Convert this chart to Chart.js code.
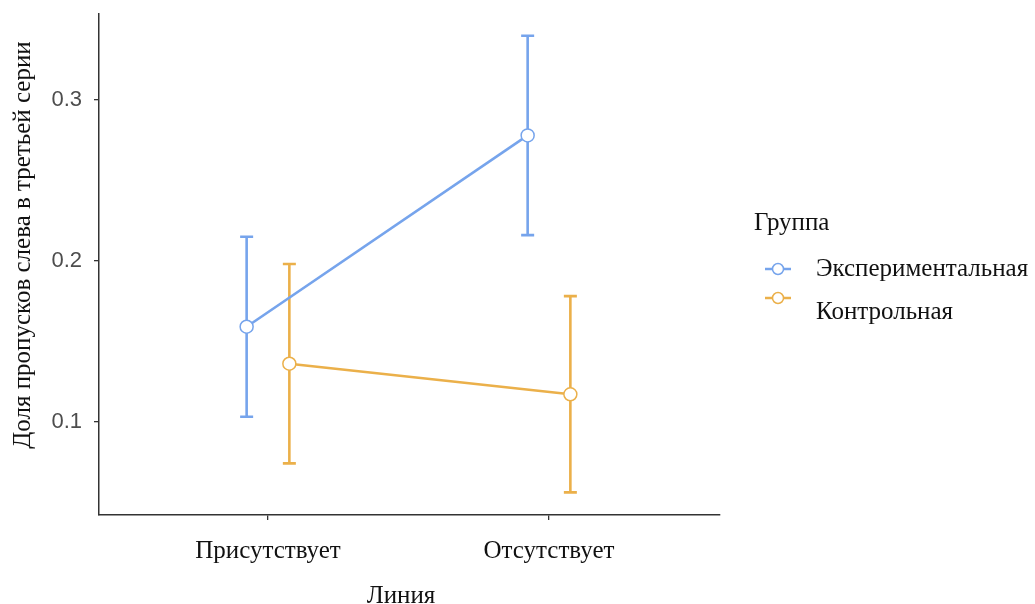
<!DOCTYPE html>
<html>
<head>
<meta charset="utf-8">
<script src="https://cdn.jsdelivr.net/npm/chart.js@4/dist/chart.umd.min.js"></script>
<style>
  html, body { margin: 0; padding: 0; background: #fff; }
  #wrap { position: relative; width: 1035px; height: 604px; }
</style>
</head>
<body>
<div id="wrap"><canvas id="c" width="1035" height="604"></canvas></div>
<script>
// Categories of the x axis and the two groups
const lineLevels = ['Присутствует', 'Отсутствует'];
const groupNames = ['Экспериментальная', 'Контрольная'];

// Means and interval bounds per group
const expMean  = [0.159, 0.278];
const expLower = [0.103, 0.216];
const expUpper = [0.215, 0.340];

const ctrlMean  = [0.136, 0.117];
const ctrlLower = [0.074, 0.056];
const ctrlUpper = [0.198, 0.178];

const yTickValues = [0.1, 0.2, 0.3];

// Styling
const BLUE = '#76a4ec';
const ORANGE = '#ebb04a';
const DODGE = 0.076;
const SERIF = '"Liberation Serif", "DejaVu Serif", serif';
const SANS = '"Liberation Sans", Arial, sans-serif';

function toPoints(values, offset) {
  return values.map((v, i) => ({ x: i + 1 + offset, y: v }));
}

const intervals = [
  { lower: expLower, upper: expUpper, color: BLUE },
  { lower: ctrlLower, upper: ctrlUpper, color: ORANGE }
];

// Vertical interval bars with caps, placed through the chart's own scales
const errorBarPlugin = {
  id: 'errorBars',
  beforeDatasetsDraw(chart) {
    const ctx = chart.ctx;
    const yScale = chart.scales.y;
    intervals.forEach((iv, di) => {
      const meta = chart.getDatasetMeta(di);
      ctx.save();
      ctx.strokeStyle = iv.color;
      ctx.lineWidth = 2.6;
      ctx.lineCap = 'butt';
      meta.data.forEach((pt, j) => {
        const x = pt.x;
        const yLo = yScale.getPixelForValue(iv.lower[j]);
        const yHi = yScale.getPixelForValue(iv.upper[j]);
        ctx.beginPath();
        ctx.moveTo(x, yLo); ctx.lineTo(x, yHi);
        ctx.moveTo(x - 6.5, yHi); ctx.lineTo(x + 6.5, yHi);
        ctx.moveTo(x - 6.5, yLo); ctx.lineTo(x + 6.5, yLo);
        ctx.stroke();
      });
      ctx.restore();
    });
  }
};

// Axis titles and the group legend
const labelsPlugin = {
  id: 'labels',
  afterDraw(chart) {
    const ctx = chart.ctx;
    ctx.save();
    ctx.fillStyle = '#111';
    ctx.font = '25px ' + SERIF;

    // y axis title
    ctx.save();
    ctx.translate(30, 245);
    ctx.rotate(-Math.PI / 2);
    ctx.textAlign = 'center';
    ctx.textBaseline = 'alphabetic';
    ctx.fillText('Доля пропусков слева в третьей серии', 0, 0);
    ctx.restore();

    // x axis title
    ctx.textAlign = 'center';
    ctx.textBaseline = 'alphabetic';
    ctx.fillText('Линия', 401, 603);

    // legend
    ctx.textAlign = 'left';
    ctx.fillText('Группа', 754, 230);
    const items = [
      { name: groupNames[0], color: BLUE, symY: 269, textY: 276 },
      { name: groupNames[1], color: ORANGE, symY: 298, textY: 319 }
    ];
    items.forEach(it => {
      ctx.strokeStyle = it.color;
      ctx.lineWidth = 2.5;
      ctx.beginPath();
      ctx.moveTo(765, it.symY); ctx.lineTo(791, it.symY);
      ctx.stroke();
      ctx.beginPath();
      ctx.arc(778, it.symY, 5.5, 0, Math.PI * 2);
      ctx.fillStyle = '#fff';
      ctx.fill();
      ctx.lineWidth = 1.5;
      ctx.stroke();
      ctx.fillStyle = '#111';
      ctx.fillText(it.name, 816, it.textY);
    });
    ctx.restore();
  }
};

const lineStyle = (color) => ({
  borderColor: color,
  borderWidth: 2.6,
  pointRadius: 6.5,
  pointHoverRadius: 6.5,
  pointBackgroundColor: '#fff',
  pointBorderColor: color,
  pointBorderWidth: 1.5,
  fill: false,
  tension: 0
});

new Chart(document.getElementById('c'), {
  type: 'line',
  data: {
    datasets: [
      Object.assign({ label: groupNames[0], data: toPoints(expMean, -DODGE), order: 2 }, lineStyle(BLUE)),
      Object.assign({ label: groupNames[1], data: toPoints(ctrlMean, DODGE), order: 1 }, lineStyle(ORANGE))
    ]
  },
  options: {
    responsive: false,
    animation: false,
    devicePixelRatio: 1,
    layout: { padding: { top: 14, right: 315, bottom: 0, left: 0 } },
    plugins: { legend: { display: false }, tooltip: { enabled: false } },
    scales: {
      x: {
        type: 'linear',
        min: 0.3986,
        max: 2.6085,
        afterBuildTicks: (scale) => { scale.ticks = [1, 2].map(v => ({ value: v })); },
        afterFit: (scale) => { scale.height = 89; },
        ticks: {
          autoSkip: false,
          maxRotation: 0,
          padding: 16,
          color: '#111',
          font: { family: SERIF, size: 25 },
          callback: (v) => lineLevels[v - 1]
        },
        grid: { drawOnChartArea: false, drawTicks: true, tickLength: 5, color: '#333', lineWidth: 1.3 },
        border: { display: true, color: '#333', width: 1.5 }
      },
      y: {
        type: 'linear',
        min: 0.0419,
        max: 0.3535,
        afterBuildTicks: (scale) => { scale.ticks = yTickValues.map(v => ({ value: v })); },
        afterFit: (scale) => {
          scale.width = 99;
          scale.paddingTop = 0;
          scale.paddingBottom = 0;
        },
        ticks: {
          padding: 12,
          color: '#4d4d4d',
          font: { family: SANS, size: 22 },
          callback: (v) => v.toFixed(1)
        },
        grid: { drawOnChartArea: false, drawTicks: true, tickLength: 5, color: '#333', lineWidth: 1.3 },
        border: { display: true, color: '#333', width: 1.5 }
      }
    }
  },
  plugins: [errorBarPlugin, labelsPlugin]
});
</script>
</body>
</html>
